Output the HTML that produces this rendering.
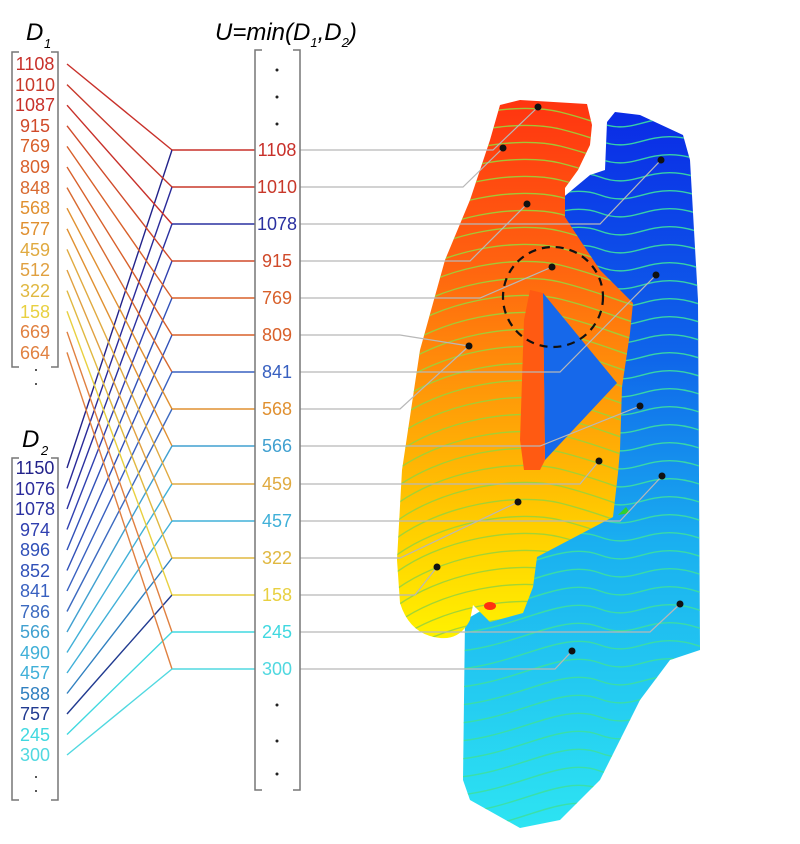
<!DOCTYPE html>
<html><head><meta charset="utf-8"><style>
html,body{margin:0;padding:0;background:#fff;width:800px;height:844px;overflow:hidden}
svg{display:block}
text{font-family:"Liberation Sans",sans-serif}
</style></head><body>
<svg id="s" width="800" height="844" viewBox="0 0 800 844" xmlns="http://www.w3.org/2000/svg">
<defs>
<linearGradient id="gb" x1="0" y1="0" x2="0" y2="1" gradientUnits="objectBoundingBox">
<stop offset="0" stop-color="#0a28e6"/><stop offset="0.35" stop-color="#0f66ea"/><stop offset="0.6" stop-color="#1ab0f0"/><stop offset="1" stop-color="#2ee6f2"/></linearGradient>
<linearGradient id="go" x1="0" y1="100" x2="0" y2="640" gradientUnits="userSpaceOnUse">
<stop offset="0" stop-color="#ff3410"/><stop offset="0.3" stop-color="#ff6210"/><stop offset="0.55" stop-color="#ff9a08"/><stop offset="0.78" stop-color="#ffcc00"/><stop offset="1" stop-color="#fff200"/></linearGradient>
<clipPath id="cb"><path id="pb" d="M607,122 L615,112 L640,115 L683,135 L690,160 L698,300 L700,650 L670,660 L640,700 L600,780 L560,820 L520,828 L470,800 L463,780 L465,620 L500,600 L560,200 L590,175 L605,170Z"/></clipPath>
<clipPath id="co"><path id="po" d="M500,105 L520,100 L587,104 L592,125 L590,145 L578,170 L565,188 L565,217 L580,240 L600,270 L613,283 L633,303 L630,333 L622,387 L620,450 L618,473 L613,517 L537,557 L533,587 L523,613 L490,622 L473,605 L470,620 Q460,640 440,638 Q410,635 400,603 L397,560 L402,470 L420,350 L445,260 L470,200 L490,140Z"/></clipPath>
</defs>
<g id="surf">
<rect x="440" y="100" width="270" height="740" fill="url(#gb)" clip-path="url(#cb)"/>
<g id="cbl" clip-path="url(#cb)" fill="none" stroke="#3de0a0" stroke-width="1.4" opacity="0.9"></g>
<rect x="390" y="95" width="250" height="560" fill="url(#go)" clip-path="url(#co)"/>
<g id="col" clip-path="url(#co)" fill="none" stroke="#9ad43a" stroke-width="1.4" opacity="0.9"></g>
<path d="M543,293 L617,383 L545,460Z" fill="#1668ea"/>
<path d="M530,290 L543,293 L545,460 L540,470 L524,470 L520,440 L524,320Z" fill="#ff5a12"/>
<circle cx="553" cy="297" r="50" fill="none" stroke="#111" stroke-width="2.2" stroke-dasharray="8,6"/>
<path d="M618,515 l8,-8 l4,6 z" fill="#30d030"/>
<ellipse cx="490" cy="606" rx="6" ry="4" fill="#ff3010"/>
</g>
<g id="gl" stroke="#b8b8b8" stroke-width="1.2" fill="none"></g>
<g id="dots" fill="#111"></g>
<g id="conn" fill="none" stroke-width="1.4"></g>
<g stroke="#777" stroke-width="1.5" fill="none">
<path d="M19,52 H12 V367 H19 M51,52 H58 V367 H51"/>
<path d="M19,458 H12 V800 H19 M51,458 H58 V800 H51"/>
<path d="M262,50 H255 V790 H262 M293,50 H300 V790 H293"/>
</g>
<text x="26" y="40" font-size="24" font-style="italic">D</text><text x="44" y="48" font-size="13" font-style="italic">1</text>
<text x="22" y="447" font-size="24" font-style="italic">D</text><text x="41" y="455" font-size="13" font-style="italic">2</text>
<text x="215" y="40" font-size="24" font-style="italic">U=min(D<tspan font-size="13" dy="7">1</tspan><tspan dy="-7">,D</tspan><tspan font-size="13" dy="7">2</tspan><tspan dy="-7">)</tspan></text>
<g font-size="18" text-anchor="middle">
<text x="35" y="70" fill="#c8302a">1108</text>
<text x="35" y="91" fill="#c8382a">1010</text>
<text x="35" y="111" fill="#c8302a">1087</text>
<text x="35" y="132" fill="#d04a2a">915</text>
<text x="35" y="152" fill="#d8602a">769</text>
<text x="35" y="173" fill="#d8602a">809</text>
<text x="35" y="194" fill="#d86a30">848</text>
<text x="35" y="214" fill="#e09030">568</text>
<text x="35" y="235" fill="#e09030">577</text>
<text x="35" y="256" fill="#e0aa40">459</text>
<text x="35" y="276" fill="#e0a040">512</text>
<text x="35" y="297" fill="#e0b840">322</text>
<text x="35" y="318" fill="#e8d040">158</text>
<text x="35" y="338" fill="#e08040">669</text>
<text x="35" y="359" fill="#e08040">664</text>
<text x="35" y="474" fill="#22228a">1150</text>
<text x="35" y="495" fill="#2a2a9a">1076</text>
<text x="35" y="515" fill="#2a30a0">1078</text>
<text x="35" y="536" fill="#3040b0">974</text>
<text x="35" y="556" fill="#3050b8">896</text>
<text x="35" y="577" fill="#3050b8">852</text>
<text x="35" y="597" fill="#3860c0">841</text>
<text x="35" y="618" fill="#3c6ac0">786</text>
<text x="35" y="638" fill="#40a0d0">566</text>
<text x="35" y="659" fill="#40b0d8">490</text>
<text x="35" y="679" fill="#40b0d8">457</text>
<text x="35" y="700" fill="#3080c0">588</text>
<text x="35" y="720" fill="#203a90">757</text>
<text x="35" y="741" fill="#40d8e0">245</text>
<text x="35" y="761" fill="#50d8e0">300</text>
</g>
<g font-size="18" text-anchor="middle">
<text x="277" y="156" fill="#c8302a">1108</text>
<text x="277" y="193" fill="#c8382a">1010</text>
<text x="277" y="230" fill="#2a30a0">1078</text>
<text x="277" y="267" fill="#d04a2a">915</text>
<text x="277" y="304" fill="#d8602a">769</text>
<text x="277" y="341" fill="#d8602a">809</text>
<text x="277" y="378" fill="#3860c0">841</text>
<text x="277" y="415" fill="#e09030">568</text>
<text x="277" y="452" fill="#40a0d0">566</text>
<text x="277" y="490" fill="#e0aa40">459</text>
<text x="277" y="527" fill="#40b0d8">457</text>
<text x="277" y="564" fill="#e0b840">322</text>
<text x="277" y="601" fill="#e8d040">158</text>
<text x="277" y="638" fill="#40d8e0">245</text>
<text x="277" y="675" fill="#50d8e0">300</text>
</g>
<g fill="#222">
<circle cx="277" cy="70" r="1.5"/><circle cx="277" cy="97" r="1.5"/><circle cx="277" cy="124" r="1.5"/>
<circle cx="277" cy="705" r="1.5"/><circle cx="277" cy="741" r="1.5"/><circle cx="277" cy="774" r="1.5"/>
<circle cx="36" cy="370" r="1"/><circle cx="36" cy="384" r="1"/>
<circle cx="36" cy="777" r="1"/><circle cx="36" cy="791" r="1"/>
</g>
<script>
var NS="http://www.w3.org/2000/svg";
function el(p,t,a){var e=document.createElementNS(NS,t);for(var k in a)e.setAttribute(k,a[k]);p.appendChild(e);return e;}
var rows=[150,187,224,261,298,335,372,409,446,484,521,558,595,632,669];
var c1=["#c8302a","#c8382a","#c8302a","#d04a2a","#d8602a","#d8602a","#d86a30","#e09030","#e09030","#e0aa40","#e0a040","#e0b840","#e8d040","#e08040","#e08040"];
var c2=["#22228a","#2a2a9a","#2a30a0","#3040b0","#3050b8","#3050b8","#3860c0","#3c6ac0","#40a0d0","#40b0d8","#40b0d8","#3080c0","#203a90","#40d8e0","#50d8e0"];
var w=[1,1,2,1,1,1,2,1,2,1,2,1,1,2,2];
var g=document.getElementById("conn");
for(var i=0;i<15;i++){
 var y1=64+i*20.6,y2=468+i*20.5,r=rows[i];
 el(g,"line",{x1:67,y1:y1,x2:172,y2:r,stroke:c1[i]});
 el(g,"line",{x1:67,y1:y2,x2:172,y2:r,stroke:c2[i]});
 el(g,"line",{x1:172,y1:r,x2:255,y2:r,stroke:w[i]==1?c1[i]:c2[i]});
}
var dots=[[538,107],[503,148],[527,204],[661,160],[552,267],[656,275],[469,346],[640,406],[599,461],[662,476],[518,502],[437,567],[680,604],[572,651]];
var ends=[[493,538,107],[463,503,148],[600,661,160],[470,527,204],[480,552,267],[400,469,346],[560,656,275],[400,469,346],[540,640,406],[580,599,461],[620,662,476],[400,518,502],[415,437,567],[650,680,604],[555,572,651]];
var gl=document.getElementById("gl");
ends.forEach(function(e,i){el(gl,"path",{d:"M300,"+rows[i]+" H"+e[0]+" L"+e[1]+","+e[2]});});
var dg=document.getElementById("dots");
dots.forEach(function(d){el(dg,"circle",{cx:d[0],cy:d[1],r:3.5});});
var cb=document.getElementById("cbl"),co=document.getElementById("col");
for(var y=100;y<860;y+=18){
 el(cb,"path",{d:"M450,"+(y+30)+" C520,"+(y+25)+" 560,"+(y-10)+" 600,"+(y+5)+" S650,"+(y-15)+" 710,"+(y+10)});
}
for(var y=90;y<680;y+=17){
 el(co,"path",{d:"M390,"+(y+45)+" C440,"+(y+5)+" 520,"+(y-5)+" 560,"+(y+5)+" S620,"+(y+25)+" 640,"+(y+30)});
}
</script>
</svg>
</body></html>
